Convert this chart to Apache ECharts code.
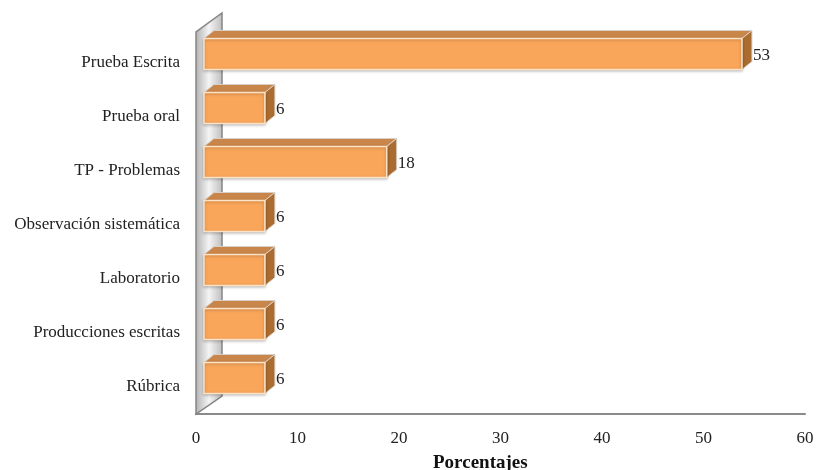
<!DOCTYPE html>
<html>
<head>
<meta charset="utf-8">
<script src="https://cdn.jsdelivr.net/npm/echarts@6/dist/echarts.min.js"></script>
<style>
  html, body { margin: 0; padding: 0; background: #fff; }
  #chart { width: 818px; height: 470px; }
</style>
</head>
<body>
<div id="chart"></div>
<script>
const categories = [
  "Prueba Escrita",
  "Prueba oral",
  "TP - Problemas",
  "Observación sistemática",
  "Laboratorio",
  "Producciones escritas",
  "Rúbrica"
];
const values = [53, 6, 18, 6, 6, 6, 6];
const xTicks = [0, 10, 20, 30, 40, 50, 60];

const FONT = "'Liberation Serif', 'DejaVu Serif', serif";
// 3D look
const DX = 10, DY = -8, SHIFT = 8, FACE_H = 31, LIFT = 9;

let chart = echarts.init(document.getElementById("chart"));

function renderBar(params, api) {
  let v = api.value(0);
  let cat = api.value(1);
  let p0 = api.coord([0, cat]);
  let p1 = api.coord([v, cat]);
  let x0 = p0[0] + SHIFT;
  let x1 = p1[0] + SHIFT;
  let yc = p0[1] - LIFT;
  let top = yc - FACE_H / 2;
  let bot = yc + FACE_H / 2;
  return {
    type: "group",
    children: [
      {
        type: "polygon",
        shape: { points: [[x0, top], [x0 + DX, top + DY], [x1 + DX, top + DY], [x1, top]] },
        style: { fill: "#c9864a", stroke: "#d8d0c8", lineWidth: 1 }
      },
      {
        type: "polygon",
        shape: { points: [[x1, top], [x1 + DX, top + DY], [x1 + DX, bot + DY], [x1, bot]] },
        style: { fill: "#ab6c30", stroke: "#d8d0c8", lineWidth: 1 }
      },
      {
        type: "rect",
        shape: { x: x0, y: top, width: x1 - x0, height: FACE_H },
        style: {
          fill: "#f9a65a",
          stroke: "#fde2c6",
          lineWidth: 1.5,
          shadowBlur: 3,
          shadowColor: "rgba(0,0,0,0.25)",
          shadowOffsetY: 1
        }
      },
      {
        type: "text",
        style: {
          x: x1 + DX + 1,
          y: yc + 2,
          text: String(v),
          font: "17px " + FONT,
          fill: "#222",
          verticalAlign: "middle",
          align: "left"
        }
      }
    ]
  };
}

function renderWall(params, api) {
  let cs = params.coordSys;
  let L = cs.x, B = cs.y + cs.height, T = cs.y;
  return {
    type: "polygon",
    shape: { points: [[L, B], [L, T - 4], [L + 26, T - 23], [L + 26, B - 18]] },
    style: {
      fill: new echarts.graphic.LinearGradient(0, 0, 1, 0, [
        { offset: 0, color: "#b0b0b0" },
        { offset: 0.5, color: "#f4f4f4" },
        { offset: 1, color: "#bcbcbc" }
      ]),
      stroke: "#858585",
      lineWidth: 1.5
    },
    z2: -1
  };
}

let option = {
  animation: false,
  grid: { left: 196, right: 13, top: 36, bottom: 56 },
  title: {
    text: "Porcentajes",
    left: 428,
    top: 449,
    textStyle: { fontFamily: FONT, fontSize: 19, fontWeight: "bold", color: "#111" }
  },
  xAxis: {
    type: "value",
    min: xTicks[0],
    max: xTicks[xTicks.length - 1],
    interval: 10,
    axisLine: { show: true, lineStyle: { color: "#8a8a8a", width: 2 } },
    axisTick: { show: false },
    splitLine: { show: false },
    axisLabel: { margin: 16, fontFamily: FONT, fontSize: 17, color: "#222" }
  },
  yAxis: {
    type: "category",
    data: categories,
    inverse: true,
    axisLine: { show: false },
    axisTick: { show: false },
    axisLabel: { margin: 16, fontFamily: FONT, fontSize: 17, color: "#222" }
  },
  series: [
    {
      type: "custom",
      renderItem: renderWall,
      data: [[0, 0]],
      encode: { x: 0, y: 1 },
      z: 1,
      silent: true
    },
    {
      type: "custom",
      renderItem: renderBar,
      data: values.map((v, i) => [v, i]),
      encode: { x: 0, y: 1 },
      z: 2
    }
  ]
};

chart.setOption(option);
</script>
</body>
</html>
